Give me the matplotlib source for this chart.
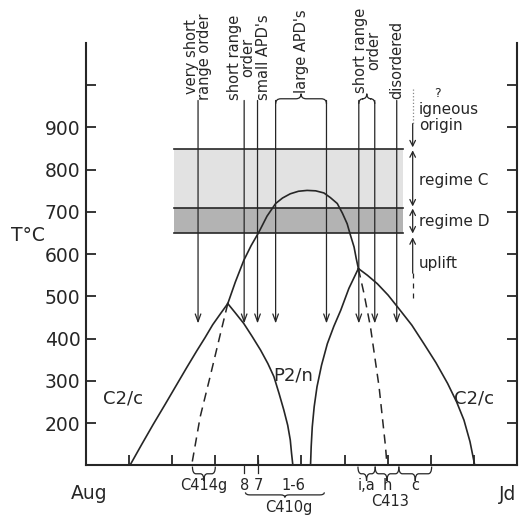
import matplotlib
matplotlib.use('Agg')
import matplotlib.pyplot as plt
from matplotlib.path import Path
from matplotlib.patches import PathPatch

plt.rcParams['font.family'] = ['DejaVu Sans']

INK = '#262626'

# phase boundaries, Jd content (%) vs T (degC)
left_c2c_x = [10.2, 12.9, 15.6, 18.4, 21.1, 23.4, 25.7, 27.6, 29.4, 31.2, 32.9]
left_c2c_t = [100, 149, 197, 245, 292, 332, 371, 402, 433, 459, 483]
left_p2n_x = [32.9, 34.65, 36.6, 38.5, 40.5, 42.2, 43.6, 44.8, 45.9, 46.8, 47.4, 47.7, 48.0]
left_p2n_t = [483, 461, 436, 406, 373, 341, 310, 270, 231, 195, 160, 128, 100]
left_dash_x = [32.9, 31.2, 28.8, 26.5, 24.6]
left_dash_t = [483, 412, 310, 215, 105]
dome_x = [32.9, 34.65, 36.6, 38.3, 40.1, 42.0, 44.0, 45.6, 47.4, 49.3, 51.3,
          53.3, 55.2, 56.7, 58.3, 59.5, 60.6, 61.3, 62.2, 62.7, 63.2]
dome_t = [483, 534, 585, 620, 652, 690, 720, 733, 743, 749, 751,
          750, 745, 734, 720, 697, 672, 647, 617, 590, 566]
right_p2n_x = [63.2, 61.0, 59.1, 57.5, 56.0, 54.65, 53.6, 52.95, 52.5, 52.25, 52.1]
right_p2n_t = [566, 519, 467, 429, 388, 337, 286, 239, 191, 144, 100]
right_c2c_x = [63.2, 65.3, 67.6, 70.1, 72.6, 75.6, 78.4, 81.2, 83.9, 86.0, 87.7, 89.1, 90.2]
right_c2c_t = [566, 550, 530, 503, 471, 432, 388, 343, 294, 250, 207, 156, 100]
right_dash_x = [63.2, 64.5, 66.0, 68.0, 69.5, 69.8]
right_dash_t = [566, 507, 428, 286, 144, 105]

# temperature regimes
band_x = [20.5, 73.5]
regime_c = [710, 850]
regime_d = [650, 710]

# cooling arrows (sample compositions)
arrow_x = [26.0, 36.7, 39.8, 44.0, 55.8, 63.3, 67.0, 72.1]
arrow_top = 964
arrow_tip = 436

y_ticks = [200, 300, 400, 500, 600, 700, 800, 900, 1000]
y_labels = ['200', '300', '400', '500', '600', '700', '800', '900', '']
x_ticks = [10, 20, 30, 40, 50, 60, 70, 80, 90]

fig = plt.figure(figsize=(5.24, 5.16), dpi=100)
ax = fig.add_axes([0.1641, 0.0982, 0.8225, 0.8184])
ax.set_xlim(0, 100)
ax.set_ylim(100, 1100)

for s in ['left', 'right', 'bottom']:
    ax.spines[s].set_linewidth(1.5)
    ax.spines[s].set_color(INK)
ax.spines['top'].set_visible(False)

ax.set_yticks(y_ticks)
ax.set_yticklabels(y_labels)
ax.set_xticks(x_ticks)
ax.set_xticklabels([])
ax.tick_params(axis='y', direction='in', length=7, width=1.3, right=True,
               labelsize=13.5, pad=4, colors=INK)
ax.tick_params(axis='x', direction='in', length=7, width=1.3, colors=INK)

# shaded regimes
ax.fill_between(band_x, regime_c[0], regime_c[1], color='#e2e2e2', lw=0, zorder=0)
ax.fill_between(band_x, regime_d[0], regime_d[1], color='#b3b3b3', lw=0, zorder=0)
for t in [regime_c[1], regime_c[0], regime_d[0]]:
    ax.plot(band_x, [t, t], color=INK, lw=1.2, zorder=1)

# phase boundaries
for xs, ts in [(left_c2c_x, left_c2c_t), (left_p2n_x, left_p2n_t),
               (dome_x, dome_t), (right_p2n_x, right_p2n_t),
               (right_c2c_x, right_c2c_t)]:
    ax.plot(xs, ts, color=INK, lw=1.2, zorder=2, solid_joinstyle='round')
for xs, ts in [(left_dash_x, left_dash_t), (right_dash_x, right_dash_t)]:
    ax.plot(xs, ts, color=INK, lw=1.1, ls=(0, (6, 4)), zorder=2)

# cooling arrows
for x in arrow_x:
    ax.annotate('', xy=(x, arrow_tip), xytext=(x, arrow_top),
                arrowprops=dict(arrowstyle='->,head_length=0.55,head_width=0.2',
                                lw=0.9, color=INK, shrinkA=0, shrinkB=0),
                zorder=3)


def brace(x1, x2, y, h, d, up=True, lw=0.9):
    s = 1 if up else -1
    xm = (x1 + x2) / 2
    verts = [(x1, y - s * h), (x1, y), (x1 + d, y),
             (xm - d, y), (xm, y), (xm, y + s * h),
             (xm, y), (xm + d, y),
             (x2 - d, y), (x2, y), (x2, y - s * h)]
    codes = [Path.MOVETO, Path.CURVE3, Path.CURVE3,
             Path.LINETO, Path.CURVE3, Path.CURVE3,
             Path.CURVE3, Path.CURVE3,
             Path.LINETO, Path.CURVE3, Path.CURVE3]
    ax.add_patch(PathPatch(Path(verts, codes), fill=False, ec=INK, lw=lw,
                           clip_on=False, zorder=3))


# top labels
brace(arrow_x[3], arrow_x[4], 968, 12, 1.2)
brace(arrow_x[5], arrow_x[6], 968, 12, 1.0)
top_labels = [('very short\nrange order', 26.0, 966),
              ('short range\norder', 35.9, 966),
              ('small APD\'s', 41.2, 966),
              ('large APD\'s', 50.0, 982),
              ('short range\norder', 65.2, 982),
              ('disordered', 72.0, 968)]
for txt, x, t in top_labels:
    ax.text(x, t, txt, rotation=90, ha='center', va='bottom', fontsize=10.5,
            linespacing=0.85, color=INK, clip_on=False)

# right-hand annotations
ann_x = 75.8
ax.plot([ann_x, ann_x], [992, 909], color='#888888', lw=0.9, ls=':')
ax.annotate('', xy=(ann_x, 853), xytext=(ann_x, 909),
            arrowprops=dict(arrowstyle='->', lw=0.9, color=INK, shrinkA=0, shrinkB=0))
ax.annotate('', xy=(ann_x, 713), xytext=(ann_x, 846),
            arrowprops=dict(arrowstyle='<->', lw=0.9, color=INK, shrinkA=0, shrinkB=0))
ax.annotate('', xy=(ann_x, 649), xytext=(ann_x, 708),
            arrowprops=dict(arrowstyle='<->', lw=0.9, color=INK, shrinkA=0, shrinkB=0))
ax.annotate('', xy=(ann_x, 640), xytext=(ann_x, 555),
            arrowprops=dict(arrowstyle='->', lw=0.9, color=INK, shrinkA=0, shrinkB=0))
ax.plot([ann_x, ann_x], [555, 491], color=INK, lw=0.9, ls=(0, (4, 4)))
ax.text(81.5, 980, '?', fontsize=9, ha='center', va='center', color=INK)
for txt, t in [('igneous', 942), ('origin', 904), ('regime C', 775),
               ('regime D', 678), ('uplift', 578)]:
    ax.text(77.2, t, txt, fontsize=11, ha='left', va='center', color=INK)

# field labels
ax.text(8.5, 259, 'C2/c', fontsize=13, ha='center', va='center', color=INK)
ax.text(48.1, 313, 'P2/n', fontsize=13, ha='center', va='center', color=INK)
ax.text(90.0, 259, 'C2/c', fontsize=13, ha='center', va='center', color=INK)
ax.text(-13.4, 644, 'T°C', fontsize=13.5, ha='center', va='center', color=INK,
        clip_on=False)
ax.text(0.8, 34, 'Aug', fontsize=13.5, ha='center', va='center', color=INK,
        clip_on=False)
ax.text(95.8, 30, 'Jd', fontsize=13.5, ha='left', va='center', color=INK,
        clip_on=False)

# sample brackets below the axis
brace(24.7, 30.0, 80, 17, 0.8, up=False)
brace(63.1, 67.1, 80, 17, 0.8, up=False)
brace(67.1, 72.6, 80, 17, 0.8, up=False)
brace(72.6, 80.2, 80, 17, 0.8, up=False)
brace(37.0, 55.3, 30, 6, 1.0, up=False)
for x, t0 in [(36.7, 100), (39.8, 112)]:
    ax.plot([x, x], [t0, 83], color=INK, lw=0.9, clip_on=False)
bottom_labels = [('C414g', 27.3, 53), ('8', 36.7, 53), ('7', 39.9, 53),
                 ('1-6', 48.2, 53), ('C410g', 47.0, 1), ('i,a', 65.1, 53),
                 ('h', 70.0, 53), ('c', 76.5, 53), ('C413', 70.5, 15)]
for txt, x, t in bottom_labels:
    ax.text(x, t, txt, fontsize=10.5, ha='center', va='center', color=INK,
            clip_on=False)

fig.savefig('out.png', dpi=100)
